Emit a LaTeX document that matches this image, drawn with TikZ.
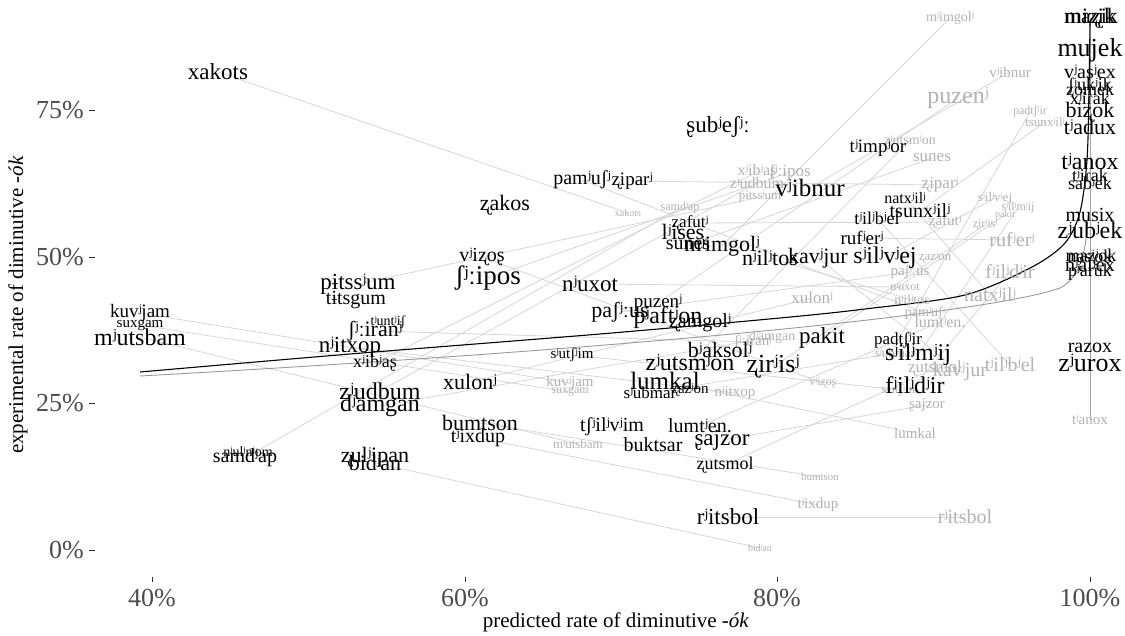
\documentclass[tikz,border=0pt]{standalone}
\usepackage{fontspec}
\setmainfont{Liberation Serif}
\usetikzlibrary{backgrounds}
\newcommand\W[6]{\node[#1,font=\fontsize{#5}{#5}\selectfont] (#2) at (#3,#4) {#6};}
\tikzset{
  bw/.style={inner sep=0pt,text=black},
  gw/.style={inner sep=0pt,text=black!30},
  conn/.style={draw=black!16,line width=0.8pt},
  ticklab/.style={inner sep=0pt,text=black!70,font=\fontsize{26}{26}\selectfont},
  tickm/.style={draw=black!80,line width=0.6pt},
  axtitle/.style={inner sep=0pt,font=\fontsize{21}{21}\selectfont}
}
\begin{document}
\begin{tikzpicture}[x=1pt,y=-1pt]
\useasboundingbox (0,0) rectangle (1125,636);
% axes
\foreach \yy/\lab [count=\i] in {110/75,257/50,403/25,550/0}{
  \node[ticklab,anchor=east] (yl\i) at (84,\yy) {\lab\%};
  \coordinate (yt\i) at (89,\yy); \coordinate (yu\i) at (95,\yy);
  \draw[tickm] (yt\i) -- (yu\i);
}
\foreach \xx/\lab [count=\i] in {152/40,465/60,777/80,1090/100}{
  \node[ticklab] (xl\i) at (\xx,598) {\lab\%};
  \coordinate (xt\i) at (\xx,577); \coordinate (xu\i) at (\xx,582);
  \draw[tickm] (xt\i) -- (xu\i);
}
\node[axtitle] (xtitle) at (616,622) {predicted rate of diminutive \textit{-ók}};
\node[axtitle,rotate=90] (ytitle) at (18,305) {experimental rate of diminutive \textit{-ók}};

% gray labels
\W{gw}{gmimg}{950}{18}{14}{mʲimgolʲ}
\W{gw}{gvib}{1010}{72}{15}{vʲibnur}
\W{gw}{gpuz}{958}{98}{24}{puzenʲ}
\W{gw}{gpadt}{1030}{112}{12}{padtʃʲir}
\W{gw}{gtsun}{1045}{122}{13}{tsunxʲilʲ}
\W{gw}{gzuts}{910}{140}{14}{zʲutsmʲon}
\W{gw}{gsunes}{932}{158}{17}{sunes}
\W{gw}{gship}{790}{172}{17}{ʃʲːipos}
\W{gw}{gxib}{757}{172}{16}{xʲibʲaʂ}
\W{gw}{gzudb}{757}{183}{16}{zʲudbum}
\W{gw}{gpits}{760}{197}{13}{pɨtssʲum}
\W{gw}{gzipar}{940}{185}{17}{ʐiparʲ}
\W{gw}{gsamd}{680}{208}{12}{samdʲap}
\W{gw}{gxak}{628}{213}{10}{xakots}
\W{gw}{gzafut}{945}{222}{15}{ʐafutʲ}
\W{gw}{gziris}{985}{225}{12}{ʐirʲisʲ}
\W{gw}{gpakit}{1005}{215}{10}{pakit}
\W{gw}{gsilm}{1018}{208}{12}{sʲilʲmʲij}
\W{gw}{gsilv}{995}{198}{13}{sʲilʲvʲej}
\W{gw}{gruf}{1012}{240}{20}{rufʲerʲ}
\W{gw}{gzaz}{935}{258}{13}{ʐazʲon}
\W{gw}{gfild}{1010}{272}{20}{fʲilʲdʲir}
\W{gw}{gnatx}{990}{295}{20}{natxʲilʲ}
\W{gw}{gpash}{910}{272}{15}{paʃʲːus}
\W{gw}{gxulon}{812}{298}{17}{xulonʲ}
\W{gw}{gnilt}{912}{300}{14}{nʲilʲtos}
\W{gw}{gnux}{905}{287}{12}{nʲuxot}
\W{gw}{gpamu}{925}{313}{14}{pamʲuʃʲ}
\W{gw}{glumt}{940}{322}{16}{lumtʲen.}
\W{gw}{gsubm}{895}{353}{13}{sʲubmar}
\W{gw}{gkav}{960}{372}{20}{kavʲjur}
\W{gw}{gtilb}{1010}{365}{20}{tʲilʲbʲel}
\W{gw}{gzutsm}{935}{368}{17}{ʐutsmol}
\W{gw}{gsutsh}{900}{390}{13}{sʲutʃʲim}
\W{gw}{gsajz}{927}{405}{15}{ʂajzor}
\W{gw}{glumk}{915}{433}{15}{lumkal}
\W{gw}{gtanox}{1090}{420}{15}{tʲanox}
\W{gw}{grits}{965}{517}{20}{rʲitsbol}
\W{gw}{gbumt}{820}{477}{11}{bumtson}
\W{gw}{gtix}{818}{505}{15}{tʲixdup}
\W{gw}{gbid}{760}{548}{10}{bidʲan}
\W{gw}{gnitx}{735}{393}{15}{nʲitxop}
\W{gw}{gdamg}{772}{337}{14}{dʲamgan}
\W{gw}{gshir}{753}{342}{15}{ʃʲːiranʲ}
\W{gw}{gkuv}{570}{383}{15}{kuvʲjam}
\W{gw}{gsux}{570}{392}{12}{suxgam}
\W{gw}{gmuts}{578}{444}{13}{mʲutsbam}
\W{gw}{gviz}{823}{383}{12}{vʲiʐoʂ}

% black labels
\W{bw}{bxakots}{218}{72}{23}{xakots}
\W{bw}{bsub}{718}{127}{23}{ʂubʲeʃʲː}
\W{bw}{btimp}{878}{148}{19}{tʲimpʲor}
\W{bw}{bpamu}{582}{180}{20}{pamʲuʃʲ}
\W{bw}{bzipar}{632}{181}{19}{ʐiparʲ}
\W{bw}{bvib}{810}{188}{25}{vʲibnur}
\W{bw}{bzakos}{505}{205}{22}{ʐakos}
\W{bw}{bzafut}{690}{223}{17}{ʐafutʲ}
\W{bw}{blises}{683}{232}{22}{lʲises}
\W{bw}{bsunes}{688}{245}{20}{sunes}
\W{bw}{bmimg}{722}{246}{22}{mʲimgolʲ}
\W{bw}{btilb}{877}{218}{18}{tʲilʲbʲel}
\W{bw}{bnatx}{905}{198}{16}{natxʲilʲ}
\W{bw}{btsun}{920}{211}{20}{tsunxʲilʲ}
\W{bw}{bruf}{862}{238}{19}{rufʲerʲ}
\W{bw}{bnilt}{770}{258}{22}{nʲilʲtos}
\W{bw}{bkav}{818}{258}{22}{kavʲjur}
\W{bw}{bsilv}{885}{258}{24}{sʲilʲvʲej}
\W{bw}{bviz}{482}{257}{20}{vʲiʐoʂ}
\W{bw}{bship}{488}{278}{27}{ʃʲːipos}
\W{bw}{bnux}{590}{284}{23}{nʲuxot}
\W{bw}{bpits}{358}{284}{23}{pɨtssʲum}
\W{bw}{btits}{356}{300}{20}{tɨtsgum}
\W{bw}{btunt}{388}{322}{14}{tʲuntʲiʃ}
\W{bw}{bshir}{375}{331}{22}{ʃʲːiranʲ}
\W{bw}{bnitx}{350}{347}{23}{nʲitxop}
\W{bw}{bxib}{375}{363}{18}{xʲibʲaʂ}
\W{bw}{bkuv}{140}{313}{19}{kuvʲjam}
\W{bw}{bsux}{140}{325}{15}{suxgam}
\W{bw}{bmuts}{140}{337}{24}{mʲutsbam}
\W{bw}{bpash}{620}{312}{22}{paʃʲːus}
\W{bw}{bpuz}{658}{303}{19}{puzenʲ}
\W{bw}{bpaft}{668}{318}{24}{pʲaftʲon}
\W{bw}{bzamg}{700}{323}{20}{ʐamgolʲ}
\W{bw}{bsutsh}{572}{355}{15}{sʲutʃʲim}
\W{bw}{bbaks}{720}{350}{22}{bʲaksolʲ}
\W{bw}{bzuts}{690}{363}{24}{zʲutsmʲon}
\W{bw}{bziris}{773}{367}{26}{ʐirʲisʲ}
\W{bw}{bpakit}{822}{338}{23}{pakit}
\W{bw}{bpadt}{898}{340}{17}{padtʃʲir}
\W{bw}{bsilm}{918}{355}{24}{sʲilʲmʲij}
\W{bw}{bfild}{915}{385}{24}{fʲilʲdʲir}
\W{bw}{bxulon}{470}{382}{22}{xulonʲ}
\W{bw}{bzudb}{380}{391}{24}{zʲudbum}
\W{bw}{bdamg}{380}{406}{24}{dʲamgan}
\W{bw}{blumk}{665}{381}{25}{lumkal}
\W{bw}{bsubm}{650}{393}{17}{sʲubmar}
\W{bw}{bzaz}{690}{390}{15}{ʐazʲon}
\W{bw}{bbumt}{480}{423}{22}{bumtson}
\W{bw}{btix}{478}{438}{20}{tʲixdup}
\W{bw}{btshil}{612}{427}{20}{tʃʲilʲvʲim}
\W{bw}{blumt}{700}{426}{20}{lumtʲen.}
\W{bw}{bbukt}{653}{445}{20}{buktsar}
\W{bw}{bsajz}{722}{440}{23}{ʂajzor}
\W{bw}{bzutsm}{725}{465}{18}{ʐutsmol}
\W{bw}{brits}{728}{517}{23}{rʲitsbol}
\W{bw}{bnulj}{248}{452}{14}{nʲulʲnʲom}
\W{bw}{bsamd}{245}{458}{20}{samdʲap}
\W{bw}{bzulip}{375}{457}{22}{ʐulʲipan}
\W{bw}{bbid}{375}{463}{22}{bidʲan}
\W{bw}{bmizik}{1090}{18}{22}{miʐik}
\W{bw}{bmazik}{1091}{18}{22}{maʐik}
\W{bw}{bmujek}{1090}{50}{26}{mujek}
\W{bw}{bvas}{1090}{72}{20}{vʲasʲex}
\W{bw}{bjuk}{1090}{86}{18}{ʃʲukʲik}
\W{bw}{bzomek}{1090}{91}{18}{ʐomek}
\W{bw}{bxirak}{1090}{98}{18}{xʲiɾak}
\W{bw}{bbizok}{1090}{112}{22}{biʐok}
\W{bw}{btadux}{1090}{127}{22}{tʲadux}
\W{bw}{btanox}{1090}{162}{24}{tʲanox}
\W{bw}{btirak}{1090}{175}{18}{tʲiɾak}
\W{bw}{bsabek}{1090}{183}{18}{sabʲek}
\W{bw}{bmusix}{1090}{215}{20}{musix}
\W{bw}{bzubek}{1090}{230}{24}{zʲubʲek}
\W{bw}{bnasok}{1090}{256}{18}{nasʲok}
\W{bw}{bmazok}{1091}{257}{18}{maʐʲok}
\W{bw}{bnalex}{1090}{265}{20}{nʲalʲex}
\W{bw}{bparuk}{1090}{272}{18}{pʲaruk}
\W{bw}{brazox}{1090}{348}{20}{razox}
\W{bw}{bzurox}{1090}{363}{26}{zʲurox}

\begin{pgfonlayer}{background}
\foreach \a in {xakots/xak,vib/vib,puz/puz,mimg/mimg,padt/padt,tsun/tsun,ship/ship,xib/xib,zudb/zudb,pits/pits,samd/samd,kuv/kuv,sux/sux,muts/muts,bumt/bumt,tix/tix,rits/rits,bid/bid,sajz/sajz,lumk/lumk,xulon/xulon,zutsm/zutsm,kav/kav,tilb/tilb,ruf/ruf,fild/fild,natx/natx,silm/silm,silv/silv,pakit/pakit,ziris/ziris,zafut/zafut,sunes/sunes,zuts/zuts,nitx/nitx,damg/damg,shir/shir,sutsh/sutsh,subm/subm,nux/nux,pamu/pamu,pash/pash,lumt/lumt,viz/viz,zipar/zipar,nilt/nilt}{
  \foreach \p/\q in \a {\draw[conn] (b\p.center) -- (g\q.center);}
}
\draw[draw=black!35,line width=0.9pt] (bmizik.center) -- (gtanox.center);
\coordinate (gc0) at (140,376);
\coordinate (gc9) at (1088,215);
\draw[draw=black!40,line width=0.9pt] (gc0) .. controls (700,345) and (1000,310) .. (1060,288) .. controls (1080,278) and (1087,250) .. (gc9);
\coordinate (bc0) at (140,372);
\coordinate (bc9) at (1090,22);
\draw[line width=1.1pt] plot[smooth,tension=0.5] coordinates {(bc0) (350,354) (600,334) (780,318) (865,309) (965,295) (1032,267) (1065,243) (1080,212) (1087,160) (1089,90) (bc9)};
\end{pgfonlayer}
\end{tikzpicture}
\end{document}
